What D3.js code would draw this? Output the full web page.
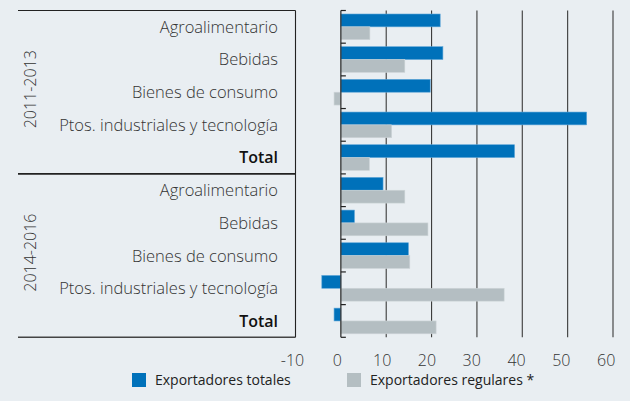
<!DOCTYPE html>
<html><head><meta charset="utf-8">
<script src="https://cdn.jsdelivr.net/npm/d3@7"></script>
<style>
body{margin:0;background:#e9eef2;}
svg{display:block;font-family:"Open Sans","Noto Sans",sans-serif;}
</style></head>
<body><svg id="c" width="630" height="401"></svg>
<script>
const periods = ["2011-2013", "2014-2016"];
const categories = ["Agroalimentario", "Bebidas", "Bienes de consumo", "Ptos. industriales y tecnología", "Total"];
const seriesNames = ["Exportadores totales", "Exportadores regulares *"];
const totales2011 = [21.9, 22.5, 19.7, 54.2, 38.3];
const regulares2011 = [6.4, 14.1, -1.5, 11.2, 6.3];
const totales2014 = [9.3, 3.0, 14.9, -4.2, -1.5];
const regulares2014 = [14.1, 19.2, 15.2, 36.0, 21.0];
const xTicks = [-10, 0, 10, 20, 30, 40, 50, 60];
const colors = ["#0071ba", "#b4bec2"];

(function () {
const rows = [];
periods.forEach((p, pi) => {
  const t = pi === 0 ? totales2011 : totales2014;
  const r = pi === 0 ? regulares2011 : regulares2014;
  categories.forEach((c, ci) => rows.push({key: p + "|" + c, period: p, cat: c, vals: [t[ci], r[ci]]}));
});

const svg = d3.select("#c");
const yTop = 10.5, yBot = 337.3;
const x = d3.scaleLinear().domain([-10, 60]).range([295.5, 613]);
const y = d3.scaleBand().domain(rows.map(d => d.key)).range([yTop, yBot]).paddingInner(0).paddingOuter(0);
const bw = y.bandwidth();
const inner = d3.scaleBand().domain([0, 1]).range([3.5, bw - 3.5]).padding(0);

// gridlines
svg.append("g").selectAll("line").data(xTicks.filter(d => d > 0)).join("line")
  .attr("x1", d => x(d)).attr("x2", d => x(d)).attr("y1", yTop).attr("y2", yBot)
  .attr("stroke", "#3a3a3a").attr("stroke-width", 1.1);

// table frame
const fr = svg.append("g").attr("stroke", "#222").attr("fill", "none");
fr.append("line").attr("x1", 18).attr("x2", x(-10)).attr("y1", yTop).attr("y2", yTop).attr("stroke-width", 1);
fr.append("line").attr("x1", 18).attr("x2", x(-10)).attr("y1", y(rows[5].key)).attr("y2", y(rows[5].key)).attr("stroke-width", 1.6);
fr.append("line").attr("x1", 18).attr("x2", x(-10)).attr("y1", yBot).attr("y2", yBot).attr("stroke-width", 1.4).attr("stroke", "#444");
fr.append("line").attr("x1", x(-10)).attr("x2", x(-10)).attr("y1", yTop).attr("y2", yBot).attr("stroke-width", 1.1);

// bars
const g = svg.append("g").selectAll("g").data(rows).join("g").attr("transform", d => `translate(0,${y(d.key)})`);
g.selectAll("rect").data(d => d.vals.map((v, i) => ({v, i}))).join("rect")
  .attr("x", d => x(Math.min(0, d.v))).attr("width", d => Math.abs(x(d.v) - x(0)))
  .attr("y", d => inner(d.i)).attr("height", inner.bandwidth())
  .attr("fill", d => colors[d.i]).attr("stroke", d => d.i === 0 ? "#5fa6d8" : "#cdd4d7").attr("stroke-width", 0.6);

// zero axis with ticks
svg.append("line").attr("x1", x(0)).attr("x2", x(0)).attr("y1", yTop).attr("y2", yBot).attr("stroke", "#333").attr("stroke-width", 1.3);
svg.append("g").selectAll("line").data(rows.map(d => y(d.key)).concat([yBot])).join("line")
  .attr("x1", x(0)).attr("x2", x(0) + 5).attr("y1", d => d).attr("y2", d => d).attr("stroke", "#222").attr("stroke-width", 1.2);

// category labels
svg.append("g").selectAll("text").data(rows).join("text")
  .attr("x", 278).attr("y", d => y(d.key) + bw / 2).attr("dy", "0.36em")
  .attr("text-anchor", "end")
  .attr("font-size", d => d.cat === "Total" ? 16 : 16.5)
  .attr("fill", d => d.cat === "Total" ? "#111" : "#333")
  .attr("font-weight", d => d.cat === "Total" ? 600 : 300)
  .text(d => d.cat);

// period labels
svg.append("g").selectAll("text").data(periods).join("text")
  .attr("transform", (p, i) => {
    const ks = rows.filter(r => r.period === p);
    const cy = (y(ks[0].key) + y(ks[ks.length - 1].key) + bw) / 2 - 3;
    return `translate(36,${cy}) rotate(-90)`;
  })
  .attr("text-anchor", "middle").attr("font-size", 16).attr("font-weight", 300).attr("fill", "#333")
  .text(d => d);

// x axis labels
const ax = svg.append("g").attr("transform", `translate(0,357)`)
  .call(d3.axisBottom(x).tickValues(xTicks).tickSize(0).tickFormat(d => String(d)));
ax.select(".domain").remove();
ax.selectAll("text").attr("font-size", 16).attr("font-weight", 300).attr("fill", "#333")
  .attr("font-family", "'Open Sans','Noto Sans',sans-serif").attr("dy", "0.36em")
  .attr("dx", d => -3.5 - (d + 10) * 0.055);

// legend
const lg = svg.append("g").selectAll("g").data(seriesNames).join("g")
  .attr("transform", (d, i) => `translate(${[132, 347][i]},373)`);
lg.append("rect").attr("width", 14).attr("height", 14).attr("fill", (d, i) => colors[i]);
lg.append("text").attr("x", 23).attr("y", 7).attr("dy", "0.38em").attr("font-size", 14).attr("font-weight", 400).attr("fill", "#222").text(d => d);
})();
</script></body></html>
